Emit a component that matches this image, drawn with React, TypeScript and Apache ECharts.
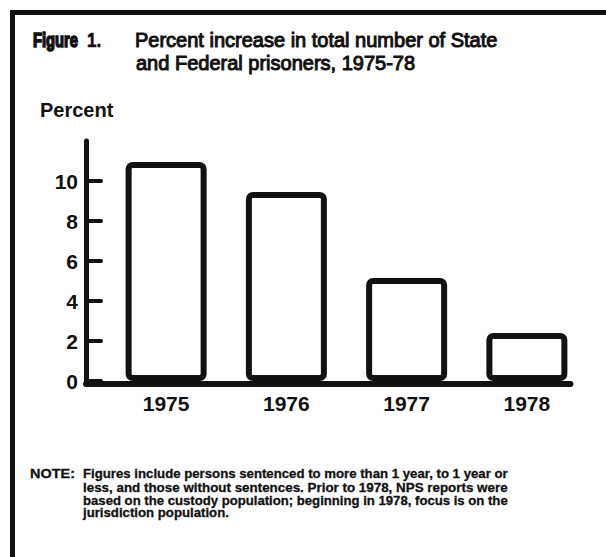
import React, { useEffect, useRef } from 'react';
import * as echarts from 'echarts';

const categories = ['1975', '1976', '1977', '1978'];
const percentIncrease = [10.95, 9.45, 5.15, 2.4];
const yTickValues = [0, 2, 4, 6, 8, 10];
const yMax = 12;
const titleLabel = 'Figure';
const titleNumber = '1.';
const titleLines = ['Percent increase in total number of State', 'and Federal prisoners, 1975-78'];
const yAxisName = 'Percent';
const noteLabel = 'NOTE:';
const noteLines = [
  'Figures include persons sentenced to more than 1 year, to 1 year or',
  'less, and those without sentences. Prior to 1978, NPS reports were',
  'based on the custody population; beginning in 1978, focus is on the',
  'jurisdiction population.',
];

const INK = '#111111';
const SANS = "'Liberation Sans', Arial, Helvetica, sans-serif";

function measure(text: string, font: string): number {
  const c = document.createElement('canvas').getContext('2d')!;
  c.font = font;
  return c.measureText(text).width;
}

export default function App() {
  const ref = useRef<HTMLDivElement>(null);
  useEffect(() => {
    document.body.style.margin = '0';
    const chart = echarts.init(ref.current!, null, { renderer: 'svg' });
    const yOffset = 20;
    const barBorder = 6;
    const barWidth = 81;
    const noteX = 83;
    const noteRight = 508;
    const noteBaselines = [478.3, 491.7, 505, 517.5];
    const noteSize = 13;

    const figSize = 20;
    const figWidth = measure(titleLabel, `bold ${figSize}px 'Liberation Sans'`);
    const figScale = 45 / figWidth;
    const noteLabelWidth = measure(noteLabel, `bold ${noteSize}px 'Liberation Sans'`);
    const noteLabelScale = 45 / noteLabelWidth;
    const noteFont = `bold ${noteSize}px 'Liberation Sans'`;
    const firstNoteWidth = measure(noteLines[0], noteFont);

    const noteTexts = noteLines.map((t, i) => {
      const justify = i < noteLines.length - 1;
      const s = (noteRight - noteX) / (justify ? measure(t, noteFont) : firstNoteWidth);
      return {
        type: 'text', z: 100, x: noteX, y: noteBaselines[i] - 0.35 * noteSize, scaleX: s,
        style: { text: t, fontFamily: SANS, fontWeight: 'bold', fontSize: noteSize, fill: INK, stroke: INK, lineWidth: 0.3, verticalAlign: 'middle' },
      };
    });

    const staticGraphics: any[] = [
      // frame
      { type: 'line', z: 100, shape: { x1: 10, y1: 12.5, x2: 606, y2: 12.5 }, style: { stroke: INK, lineWidth: 5 } },
      { type: 'line', z: 100, shape: { x1: 12.5, y1: 10, x2: 12.5, y2: 557 }, style: { stroke: INK, lineWidth: 5 } },
      // title
      { type: 'text', z: 100, x: 33, y: 47 - 0.35 * figSize, scaleX: figScale, style: { text: titleLabel, fontFamily: SANS, fontWeight: 'bold', fontSize: figSize, fill: INK, stroke: INK, lineWidth: 1.6, verticalAlign: 'middle' } },
      { type: 'text', z: 100, x: 87, y: 47 - 7, scaleX: 0.85, style: { text: titleNumber, fontFamily: SANS, fontWeight: 'bold', fontSize: 20, fill: INK, stroke: INK, lineWidth: 0.6, verticalAlign: 'middle' } },
      { type: 'text', z: 100, x: 135, y: 47 - 7, style: { text: titleLines[0], fontFamily: SANS, fontSize: 20, fill: INK, stroke: INK, lineWidth: 1, verticalAlign: 'middle' } },
      { type: 'text', z: 100, x: 136, y: 70 - 7, style: { text: titleLines[1], fontFamily: SANS, fontSize: 20, fill: INK, stroke: INK, lineWidth: 1, verticalAlign: 'middle' } },
      // y axis name
      { type: 'text', z: 100, x: 40, y: 117 - 7, style: { text: yAxisName, fontFamily: SANS, fontWeight: 'bold', fontSize: 20, fill: INK, verticalAlign: 'middle' } },
      // note
      { type: 'text', z: 100, x: 30, y: noteBaselines[0] - 0.35 * noteSize, scaleX: noteLabelScale, style: { text: noteLabel, fontFamily: SANS, fontWeight: 'bold', fontSize: noteSize, fill: INK, stroke: INK, lineWidth: 0.3, verticalAlign: 'middle' } },
      ...noteTexts,
    ];

    const option: any = {
      animation: false,
      backgroundColor: '#ffffff',
      grid: { left: 106, right: 19, top: 141, bottom: 176, containLabel: false },
      xAxis: {
        type: 'category',
        data: categories,
        axisLine: { show: false },
        axisTick: { show: false },
        axisLabel: { color: INK, fontFamily: SANS, fontWeight: 'bold', fontSize: 21, margin: 12 },
      },
      yAxis: {
        type: 'value',
        min: 0,
        max: yMax,
        interval: 2,
        offset: yOffset,
        splitLine: { show: false },
        axisLine: { show: true, lineStyle: { color: INK, width: 5, cap: 'round' } },
        axisTick: { show: true, inside: true, length: 15, customValues: yTickValues, lineStyle: { color: INK, width: 4, cap: 'round' } },
        axisLabel: { customValues: yTickValues, color: INK, fontFamily: SANS, fontWeight: 'bold', fontSize: 21, margin: 8 },
      },
      series: [
        {
          type: 'bar',
          data: percentIncrease,
          barWidth,
          silent: true,
          itemStyle: { color: '#ffffff', borderColor: INK, borderWidth: barBorder, borderRadius: 4 },
        },
      ],
      graphic: staticGraphics,
    };
    chart.setOption(option);

    // baseline from the y axis to the right edge of the last bar, placed via the chart's scales
    const y0 = chart.convertToPixel({ yAxisIndex: 0 }, 0) as number;
    const xFirst = chart.convertToPixel({ xAxisIndex: 0 }, categories[0]) as number;
    const xSecond = chart.convertToPixel({ xAxisIndex: 0 }, categories[1]) as number;
    const xLast = chart.convertToPixel({ xAxisIndex: 0 }, categories[categories.length - 1]) as number;
    const band = xSecond - xFirst;
    const axisX = xFirst - band / 2 - yOffset;
    chart.setOption({
      graphic: [
        ...staticGraphics,
        {
          type: 'line', z: 100,
          shape: { x1: axisX, y1: y0 + 3, x2: xLast + barWidth / 2 + barBorder / 2, y2: y0 + 3 },
          style: { stroke: INK, lineWidth: 6, lineCap: 'round' },
        },
      ],
    }, { replaceMerge: ['graphic'] });

    return () => chart.dispose();
  }, []);
  return <div ref={ref} style={{ position: 'fixed', left: 0, top: 0, width: 606, height: 557 }} />;
}
